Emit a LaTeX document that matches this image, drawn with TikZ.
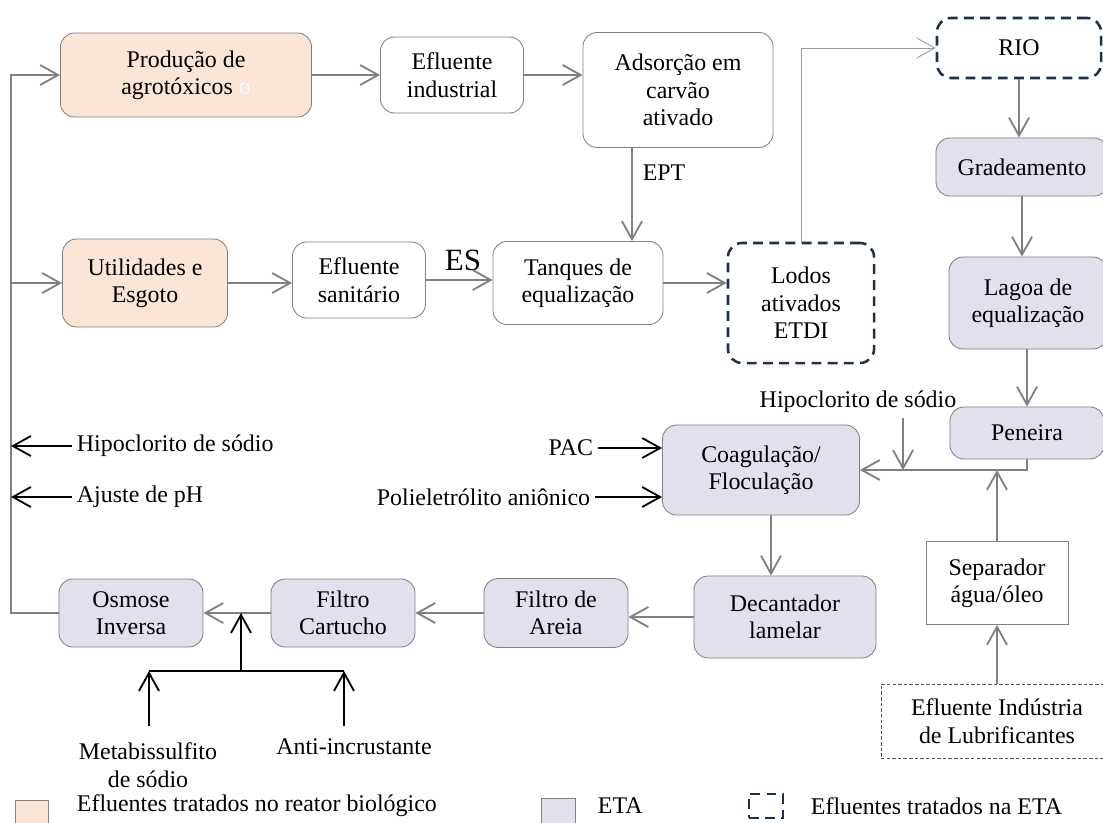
\documentclass[tikz,border=0pt]{standalone}
\usepackage{fontspec}
\setmainfont{Liberation Serif}
\usetikzlibrary{arrows.meta}
\definecolor{bioFill}{RGB}{251,229,214}
\definecolor{etaFill}{RGB}{228,223,236}
\definecolor{lineGray}{RGB}{128,128,128}
\definecolor{navy}{RGB}{30,48,78}
\definecolor{slate}{RGB}{68,84,106}

\begin{document}
\begin{tikzpicture}[x=0.025cm, y=-0.025cm, >={Straight Barb[length=4.5mm,width=5mm]},
    every node/.style={font=\fontsize{17}{19.5}\selectfont, align=center},
    box/.style={draw=lineGray, rounded corners=0.35cm, line width=0.6pt},
    bio/.style={box, fill=bioFill},
    eta/.style={box, fill=etaFill},
    river/.style={draw=navy, rounded corners=0.35cm, line width=1.8pt, dash pattern=on 7pt off 4.5pt},
    flow/.style={draw=lineGray, line width=1.3pt},
    dose/.style={draw=black, line width=1.3pt}]
        \useasboundingbox (0,0) rectangle (1103,822);

        % Upper line: industrial effluent
        \node[bio, minimum width=6.275cm, minimum height=2.1cm] (prod) at (186,75) {Produção de\\agrotóxicos {\color{white}o}};
        \node[box, minimum width=3.575cm, minimum height=1.9cm] (efind) at (452,75) {Efluente\\industrial};
        \node[box, minimum width=4.75cm, minimum height=2.875cm] (ads) at (678,90) {Adsorção em\\carvão\\ativado};

        % Middle line: sanitary effluent
        \node[bio, minimum width=4.125cm, minimum height=2.2cm] (util) at (145,283) {Utilidades e\\Esgoto};
        \node[box, minimum width=3.325cm, minimum height=1.9cm] (efsan) at (359,280) {Efluente\\sanitário};
        \node[box, minimum width=4.25cm, minimum height=2.075cm] (tanq) at (578,283) {Tanques de\\equalização};
        \node[river, minimum width=3.65cm, minimum height=3cm] (lodos) at (801,303) {Lodos\\ativados\\ETDI};

        % Right column: water treatment
        \node[river, minimum width=4.1cm, minimum height=1.5cm] (rio) at (1019,48) {RIO};
        \node[eta, minimum width=4.3cm, minimum height=1.45cm] (grad) at (1022,167) {Gradeamento};
        \node[eta, minimum width=3.95cm, minimum height=2.3cm] (lagoa) at (1028,303) {Lagoa de\\equalização};
        \node[eta, minimum width=3.85cm, minimum height=1.3cm] (pen) at (1027,433) {Peneira};
        \node[draw=lineGray, line width=0.6pt, minimum width=3.55cm, minimum height=2.075cm] (sep) at (997,583) {Separador\\água/óleo};
        \node[draw=slate, line width=0.6pt, dash pattern=on 2.5pt off 1.5pt, minimum width=5.8cm, minimum height=1.85cm] (eflub) at (997,721) {Efluente Indústria\\de Lubrificantes};

        % Lower line
        \node[eta, minimum width=4.925cm, minimum height=2.25cm] (coag) at (761,470) {Coagulação/\\Floculação};
        \node[eta, minimum width=4.55cm, minimum height=2.05cm] (decant) at (785,617) {Decantador\\lamelar};
        \node[eta, minimum width=3.6cm, minimum height=1.725cm] (areia) at (556,613) {Filtro de\\Areia};
        \node[eta, minimum width=3.6cm, minimum height=1.7cm] (cart) at (343,613) {Filtro\\Cartucho};
        \node[eta, minimum width=3.6cm, minimum height=1.7cm] (osm) at (131,613) {Osmose\\Inversa};

        % chemicals
        \node[anchor=west] (hipA) at (72,446) {Hipoclorito de sódio};
        \node[anchor=west] (ph) at (72,497) {Ajuste de pH};
        \node[anchor=east] (pac) at (598,448) {PAC};
        \node[anchor=east] (poli) at (595,497) {Polieletrólito aniônico};
        \node (hipB) at (858,402) {Hipoclorito de sódio};
        \node (meta) at (148,765) {Metabissulfito\\de sódio};
        \node (anti) at (354,747) {Anti-incrustante};
        \node (ept) at (664,173) {EPT};
        \node[font=\fontsize{22}{24}\selectfont] (es) at (463,260) {ES};

        \coordinate (spine) at (11,0);
        \coordinate (eptx) at (632,0);
        \coordinate (cdx) at (771,0);
        \coordinate (hipx) at (903,0);
        \coordinate (dj) at (241,671);
        \coordinate (ma) at (149,726);
        \coordinate (aa) at (344,726);

        % connectors
        \draw[flow, ->] (prod) -- (efind);
        \draw[flow, ->] (efind.east) -- (efind.east -| ads.west);
        \draw[flow, ->] (ads.south -| eptx) -- (tanq.north -| eptx);
        \draw[flow, ->] (util.east) -- (util.east -| efsan.west);
        \draw[flow, ->] (efsan.east) -- (efsan.east -| tanq.west);
        \draw[flow, ->] (tanq.east) -- (tanq.east -| lodos.west);
        \draw[draw=lineGray!80, line width=0.6pt, ->] (lodos.north) |- (rio.west);
        \draw[flow, ->] (rio.south) -- (rio.south |- grad.north);
        \draw[flow, ->] (grad.south) -- (grad.south |- lagoa.north);
        \draw[flow, ->] (pen.north |- lagoa.south) -- (pen.north);
        \draw[flow, ->] (pen.south) |- (coag.east);
        \draw[flow, ->] (hipB.south -| hipx) -- (hipx |- coag.east);
        \draw[flow, ->] (sep.north) -- (sep.north |- coag.east);
        \draw[flow, ->] (eflub.north) -- (sep.south);
        \draw[flow, ->] (coag.south -| cdx) -- (decant.north -| cdx);
        \draw[flow, ->] (decant.west) -- (decant.west -| areia.east);
        \draw[flow, ->] (areia.west) -- (areia.west -| cart.east);
        \draw[flow, ->] (cart.west) -- (cart.west -| osm.east);
        \draw[flow, ->] (osm.west) -- (osm.west -| spine) |- (prod.west);
        \draw[flow, ->] (util.west -| spine) -- (util.west);

        \draw[dose, ->] (hipA.west) -- (hipA.west -| spine);
        \draw[dose, ->] (ph.west) -- (ph.west -| spine);
        \draw[dose, ->] (pac.east) -- (pac.east -| coag.west);
        \draw[dose, ->] (poli.east) -- (poli.east -| coag.west);
        \draw[dose, ->] (dj) -- (dj |- cart.west);
        \draw[dose] (ma |- dj) -- (aa |- dj);
        \draw[dose, ->] (ma) -- (ma |- dj);
        \draw[dose, ->] (aa) -- (aa |- dj);

        % legend
        \node[draw=lineGray, fill=bioFill, line width=0.6pt, minimum width=0.825cm, minimum height=0.8cm] (legbio) at (32,816) {};
        \node[anchor=west] (legbiot) at (72,806) {Efluentes tratados no reator biológico};
        \node[draw=lineGray, fill=etaFill, line width=0.6pt, minimum width=0.85cm, minimum height=0.8cm] (legeta) at (558,814) {};
        \node[anchor=west] (legetat) at (593,806) {ETA};
        \node[draw=navy, line width=1.8pt, dash pattern=on 7pt off 4.5pt, minimum width=0.85cm, minimum height=0.6cm] (legrio) at (766,806) {};
        \node[anchor=west] (legriot) at (806,806) {Efluentes tratados na ETA};
\end{tikzpicture}
\end{document}
